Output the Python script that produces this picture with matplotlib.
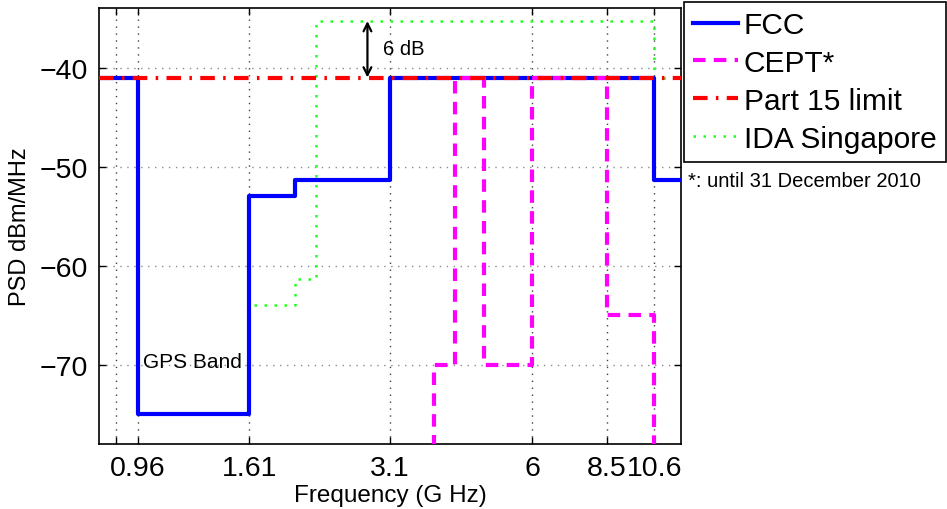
import matplotlib
matplotlib.use('Agg')
import matplotlib.pyplot as plt

plt.rcParams['font.family'] = ['Liberation Sans', 'DejaVu Sans']

# Máscaras de PSD (limites de frequência em GHz, níveis em dBm/MHz)
fcc_freq = [0.8, 0.96, 1.61, 1.99, 3.1, 10.6, 12]
fcc_psd = [-41, -75, -53, -51.3, -41, -51.3]

cept_freq = [0.8, 1.6, 3.8, 4.2, 4.8, 6, 8.5, 10.6, 12]
cept_psd = [-90, -85, -70, -41, -70, -41, -65, -85]

part15_freq = [0.8, 12]
part15_psd = [-41]

ida_freq = [0.8, 0.96, 1.61, 1.99, 2.2, 10.6, 12]
ida_psd = [-41, -75, -64, -61.3, -35.3, -41]

xticks = [0.865, 0.96, 1.61, 3.1, 6, 8.5, 10.6]
xticklabels = ['', '0.96', '1.61', '3.1', '6', '8.5', '10.6']
yticks = [-70, -60, -50, -40]

arrow_freq = 2.79

fig = plt.figure(figsize=(9.47, 5.1), dpi=100)
ax = fig.add_axes([0.1045, 0.1275, 0.6146, 0.8545])

def degraus(freq, psd):
    return freq, list(psd) + [psd[-1]]

x, y = degraus(ida_freq, ida_psd)
l_ida, = ax.step(x, y, where='post', color='#22ff22', linestyle=(0, (1, 3)),
                 linewidth=1.8, label='IDA Singapore', zorder=2)
x, y = degraus(fcc_freq, fcc_psd)
l_fcc, = ax.step(x, y, where='post', color='#0000ff', linewidth=3,
                 label='FCC', zorder=3)
x, y = degraus(cept_freq, cept_psd)
l_cept, = ax.step(x, y, where='post', color='#ff00ff', linestyle=(0, (3, 2)),
                  linewidth=3, label='CEPT*', zorder=4)
x, y = degraus(part15_freq, part15_psd)
l_p15, = ax.step(x, y, where='post', color='#ff0000', linestyle=(0, (3.5, 2, 0.6, 2)),
                 linewidth=3, label='Part 15 limit', zorder=5)

ax.set_xscale('log')
ax.set_xlim(0.8, 12)
ax.set_ylim(-78, -34)
ax.minorticks_off()
ax.set_xticks(xticks)
ax.set_xticklabels(xticklabels)
ax.set_yticks(yticks)
ax.tick_params(axis='both', direction='in', top=True, right=True, length=5,
               width=1, labelsize=20.5, pad=8)
for s in ax.spines.values():
    s.set_linewidth(1.2)

ax.xaxis.grid(True, linestyle=(0, (1, 4)), color='0.25', linewidth=1)
ax.yaxis.grid(True, linestyle=(0, (1, 4)), color='0.55', linewidth=1)
ax.set_axisbelow(True)

ax.set_xlabel('Frequency (G Hz)', fontsize=17.5, labelpad=2)
ax.set_ylabel('PSD dBm/MHz', fontsize=17, labelpad=6)

# Seta de 6 dB entre IDA e Part 15
ax.annotate('', xy=(arrow_freq, max(ida_psd)), xytext=(arrow_freq, part15_psd[0]),
            arrowprops=dict(arrowstyle='<->', color='black', lw=1.6,
                            shrinkA=0, shrinkB=0, mutation_scale=14))
ax.text(3.0, -38.1, '6 dB', fontsize=14.5, ha='left', va='center')
ax.text(0.98, -69.7, 'GPS Band', fontsize=15, ha='left', va='center')

leg = fig.legend(handles=[l_fcc, l_cept, l_p15, l_ida], loc='upper left',
                 bbox_to_anchor=(0.7225, 0.994), fontsize=21.5, frameon=True,
                 fancybox=False, framealpha=1, edgecolor='black',
                 handlelength=1.5, handletextpad=0.2, labelspacing=0.33,
                 borderpad=0.3, borderaxespad=0)
leg.get_frame().set_linewidth(1.2)

fig.text(0.7265, 0.645, '*: until 31 December 2010', fontsize=14.5,
         ha='left', va='center')

fig.savefig('out.png', dpi=100)
